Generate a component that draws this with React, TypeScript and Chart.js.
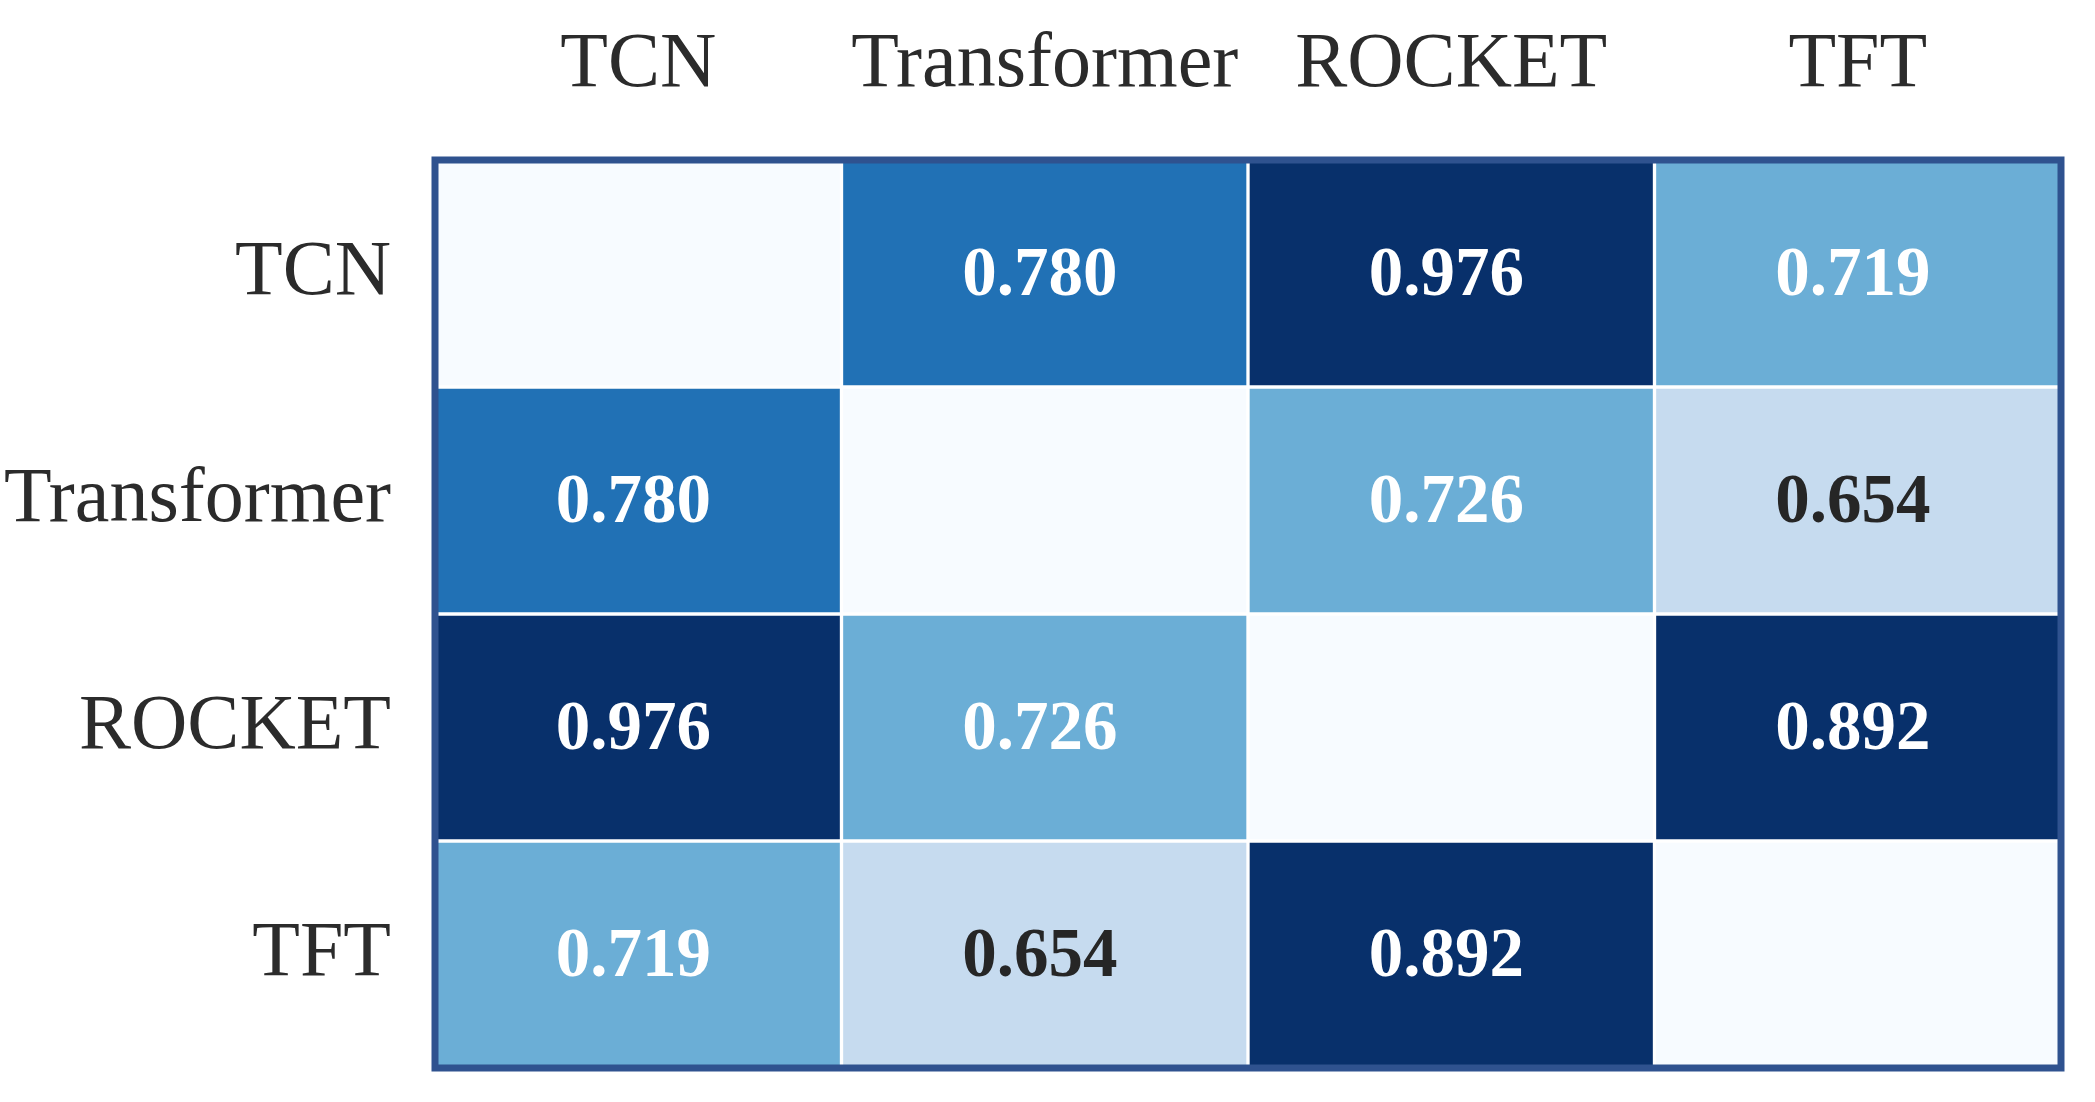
import React, { useEffect, useRef } from "react";
import { Chart, registerables } from "chart.js";

Chart.register(...registerables);

// ---- data ----
const models = ["TCN", "Transformer", "ROCKET", "TFT"];
const tcnRow: (number | null)[] = [null, 0.78, 0.976, 0.719];
const transformerRow: (number | null)[] = [0.78, null, 0.726, 0.654];
const rocketRow: (number | null)[] = [0.976, 0.726, null, 0.892];
const tftRow: (number | null)[] = [0.719, 0.654, 0.892, null];
const matrixRows = [tcnRow, transformerRow, rocketRow, tftRow];

// ---- styles ----
const FONT = "'Liberation Serif', 'Times New Roman', serif";
function cellColor(v: number | null): string {
  if (v === null) return "#f7fbff";
  if (v >= 0.85) return "#08306b";
  if (v >= 0.75) return "#2171b5";
  if (v >= 0.7) return "#6baed6";
  return "#c6dbef";
}
function textColor(v: number): string {
  return v >= 0.7 ? "#ffffff" : "#262626";
}

const valueLabelPlugin = {
  id: "valueLabels",
  afterDatasetsDraw(chart: any) {
    const ctx = chart.ctx;
    ctx.save();
    ctx.font = `bold 69px ${FONT}`;
    ctx.textAlign = "center";
    ctx.textBaseline = "middle";
    chart.data.datasets.forEach((ds: any, i: number) => {
      const meta = chart.getDatasetMeta(i);
      meta.data.forEach((el: any, j: number) => {
        const v = matrixRows[i][j];
        if (v === null) return;
        ctx.fillStyle = textColor(v);
        ctx.fillText(v.toFixed(3), el.x - 5, (el.y + el.base) / 2 + 4);
      });
    });
    // frame
    const a = chart.chartArea;
    ctx.strokeStyle = "#2f528f";
    ctx.lineWidth = 7;
    ctx.strokeRect(a.left, a.top, a.right - a.left, a.bottom - a.top);
    ctx.restore();
  },
};

export default function App() {
  const ref = useRef<HTMLCanvasElement | null>(null);
  useEffect(() => {
    if (!ref.current) return;
    const chart = new Chart(ref.current, {
      type: "bar",
      data: {
        labels: models,
        datasets: matrixRows.map((row, i) => ({
          label: models[i],
          data: row.map(() => 1),
          backgroundColor: row.map((v) => cellColor(v)),
          borderColor: "#ffffff",
          borderWidth: 2,
          borderSkipped: false,
          barPercentage: 1,
          categoryPercentage: 1,
        })),
      },
      options: {
        animation: false,
        responsive: true,
        maintainAspectRatio: false,
        layout: { padding: { left: 0, top: 0, right: 34, bottom: 34 } },
        plugins: { legend: { display: false }, tooltip: { enabled: false } },
        scales: {
          x: {
            type: "category",
            position: "top",
            stacked: true,
            grid: { display: false, drawTicks: false },
            border: { display: false },
            ticks: {
              color: "#2b2b2b",
              font: { family: FONT, size: 78 },
              padding: 48,
              maxRotation: 0,
              autoSkip: false,
            },
            afterFit: (s: any) => {
              s.height = 160;
              s.paddingLeft = 0;
              s.paddingRight = 0;
            },
          },
          y: {
            type: "linear",
            display: false,
            stacked: true,
            reverse: true,
            min: 0,
            max: models.length,
          },
          yCat: {
            type: "category",
            labels: models,
            position: "left",
            offset: true,
            grid: { display: false, drawTicks: false },
            border: { display: false },
            ticks: {
              color: "#2b2b2b",
              font: { family: FONT, size: 78 },
              padding: 44,
              autoSkip: false,
            },
            afterFit: (s: any) => {
              s.width = 435;
              s.paddingTop = 0;
              s.paddingBottom = 0;
            },
          },
        },
      },
      plugins: [valueLabelPlugin],
    } as any);
    return () => chart.destroy();
  }, []);
  return (
    <div style={{ position: "fixed", left: 0, top: 0, width: 2095, height: 1102, background: "#fff" }}>
      <canvas ref={ref} />
    </div>
  );
}
